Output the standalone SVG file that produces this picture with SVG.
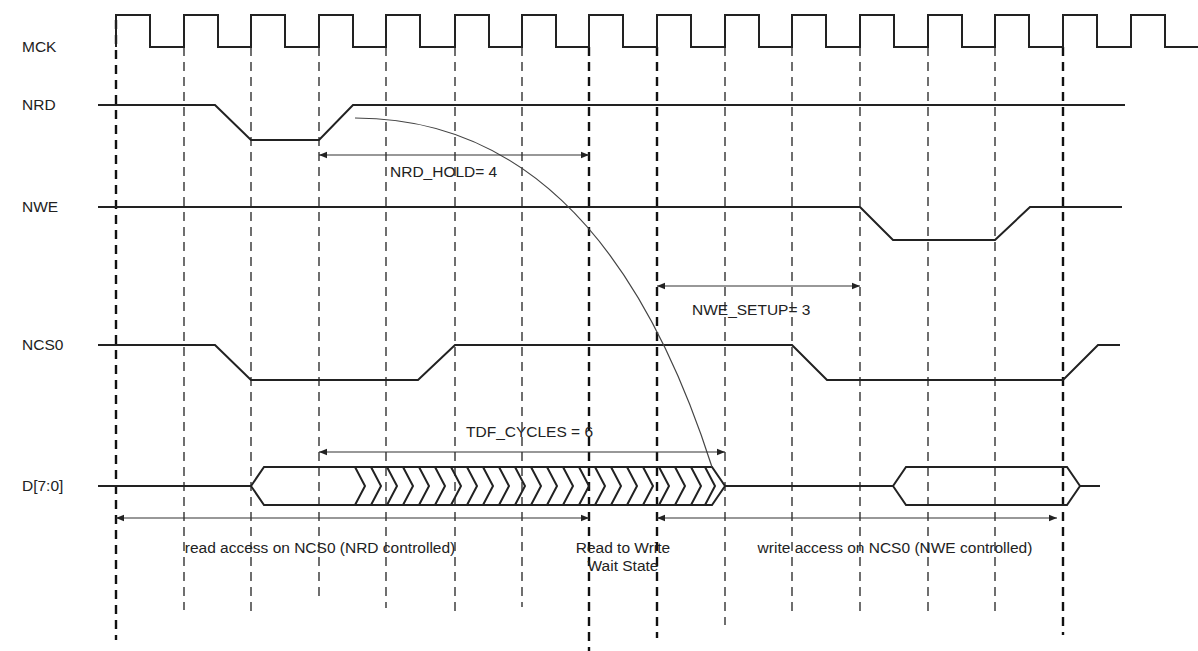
<svg xmlns="http://www.w3.org/2000/svg" width="1198" height="651" viewBox="0 0 1198 651">
<style>
.sig{fill:none;stroke:#222;stroke-width:2}
.d{stroke:#222;stroke-width:1.3;stroke-dasharray:9,6}
.dt{stroke:#111;stroke-width:2.4;stroke-dasharray:9,6}
.a{stroke:#333;stroke-width:1.2;fill:none;marker-start:url(#ah);marker-end:url(#ah)}
text{font-family:"Liberation Sans",Arial,sans-serif;font-size:15.5px;fill:#222}
</style>
<defs>
<marker id="ah" viewBox="0 0 10 10" refX="10" refY="5" markerWidth="10" markerHeight="8" orient="auto-start-reverse" markerUnits="userSpaceOnUse"><path d="M0,1 L10,5 L0,9 z" fill="#222"/></marker>
</defs>
<rect width="1198" height="651" fill="#fff"/>
<g id="grid">
<line class="dt" x1="116" y1="20" x2="116" y2="640"/>
<line class="d" x1="184" y1="47" x2="184" y2="610"/>
<line class="d" x1="251" y1="47" x2="251" y2="615"/>
<line class="d" x1="319" y1="47" x2="319" y2="600"/>
<line class="d" x1="386" y1="47" x2="386" y2="608"/>
<line class="d" x1="455" y1="47" x2="455" y2="615"/>
<line class="d" x1="522" y1="47" x2="522" y2="607"/>
<line class="dt" x1="589" y1="47" x2="589" y2="651"/>
<line class="dt" x1="657" y1="47" x2="657" y2="638"/>
<line class="d" x1="725" y1="47" x2="725" y2="625"/>
<line class="d" x1="792" y1="47" x2="792" y2="612"/>
<line class="d" x1="860" y1="47" x2="860" y2="612"/>
<line class="d" x1="928" y1="47" x2="928" y2="612"/>
<line class="d" x1="995" y1="47" x2="995" y2="612"/>
<line class="dt" x1="1063" y1="47" x2="1063" y2="635"/>
</g>
<g id="MCK">
<text x="22" y="52">MCK</text>
<path class="sig" d="M116,47 V15 H150 V47 H184 V15 H218 V47 H251 V15 H285 V47 H319 V15 H353 V47 H386 V15 H420 V47 H455 V15 H489 V47 H522 V15 H556 V47 H589 V15 H623 V47 H657 V15 H691 V47 H725 V15 H759 V47 H792 V15 H826 V47 H860 V15 H894 V47 H928 V15 H962 V47 H995 V15 H1029 V47 H1063 V15 H1097 V47 H1131 V15 H1165 V47 H1198"/>
</g>
<g id="NRD">
<text x="22" y="110">NRD</text>
<path class="sig" d="M98,105 H215 L251,140 H319 L353,105 H1125"/>
</g>
<g id="NWE">
<text x="22" y="212">NWE</text>
<path class="sig" d="M98,207 H860 L893,240 H995 L1030,207 H1122"/>
</g>
<g id="NCS0">
<text x="22" y="350">NCS0</text>
<path class="sig" d="M98,345 H215 L251,380 H418 L455,345 H792 L827,380 H1063 L1098,345 H1120"/>
</g>
<g id="D">
<text x="22" y="491">D[7:0]</text>
<path class="sig" d="M98,486 H251 L264,467 H712 L725,486 L712,505 H264 L251,486 M725,486 H893 L906,467 H1067 L1080,486 L1067,505 H906 L893,486 M1080,486 H1100"/>
<path class="sig" stroke-width="1.5" d="M355,467 l10,19 l-10,19 M371,467 l10,19 l-10,19 M387,467 l10,19 l-10,19 M403,467 l10,19 l-10,19 M419,467 l10,19 l-10,19 M435,467 l10,19 l-10,19 M451,467 l10,19 l-10,19 M467,467 l10,19 l-10,19 M483,467 l10,19 l-10,19 M499,467 l10,19 l-10,19 M515,467 l10,19 l-10,19 M531,467 l10,19 l-10,19 M547,467 l10,19 l-10,19 M563,467 l10,19 l-10,19 M579,467 l10,19 l-10,19 M595,467 l10,19 l-10,19 M611,467 l10,19 l-10,19 M627,467 l10,19 l-10,19 M643,467 l10,19 l-10,19 M659,467 l10,19 l-10,19 M675,467 l10,19 l-10,19 M691,467 l10,19 l-10,19 M705,467 l10,19 l-10,19"/>
</g>
<g id="connectors">
<path d="M355,118 Q600,118 712,467" fill="none" stroke="#444" stroke-width="1.2"/>
<line class="a" x1="319" y1="155" x2="589" y2="155"/>
<line class="a" x1="657" y1="286" x2="860" y2="286"/>
<line class="a" x1="319" y1="452" x2="725" y2="452"/>
<line class="a" x1="116" y1="518" x2="589" y2="518"/>
<line class="a" x1="657" y1="518" x2="1057" y2="518"/>
</g>
<g id="labels">
<text x="390" y="177">NRD_HOLD= 4</text>
<text x="692" y="315">NWE_SETUP= 3</text>
<text x="466" y="437">TDF_CYCLES = 6</text>
<text x="320" y="553" text-anchor="middle">read access on NCS0 (NRD controlled)</text>
<text x="623" y="553" text-anchor="middle">Read to Write</text>
<text x="623" y="571" text-anchor="middle">Wait State</text>
<text x="895" y="553" text-anchor="middle">write access on NCS0 (NWE controlled)</text>
</g>
</svg>
